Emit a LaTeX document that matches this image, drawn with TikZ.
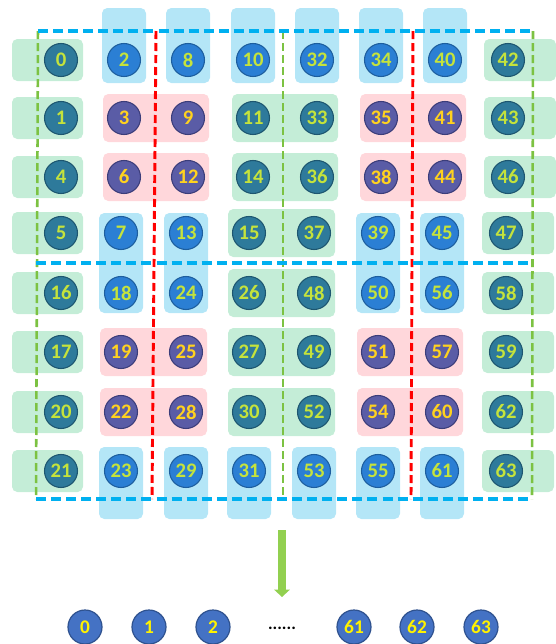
\documentclass[tikz,border=0pt]{standalone}
\usepackage{fontspec}
\setmainfont{Carlito}
\usetikzlibrary{arrows.meta,calc,backgrounds}
\definecolor{tealfill}{HTML}{2E7A9B}
\definecolor{tealline}{HTML}{1D5670}
\definecolor{bluefill}{HTML}{2B7FD4}
\definecolor{blueline}{HTML}{1D5E9E}
\definecolor{purpfill}{HTML}{5A5CA6}
\definecolor{purpline}{HTML}{3B3D7A}
\definecolor{limetext}{HTML}{C5E33C}
\definecolor{goldtext}{HTML}{FFD21F}
\definecolor{greenbox}{HTML}{C4EDD7}
\definecolor{bluebox}{HTML}{B4E6F7}
\definecolor{pinkbox}{HTML}{FFD7DB}
\definecolor{dashblue}{HTML}{00B0F0}
\definecolor{dashgreen}{HTML}{7CC242}
\definecolor{dashred}{HTML}{FF0000}
\definecolor{arrowgreen}{HTML}{92D050}
\definecolor{outfill}{HTML}{4472C4}
\definecolor{outline}{HTML}{2F528F}
\begin{document}
\begin{tikzpicture}[x=0.75pt,y=-0.75pt,
  circbase/.style={circle,minimum size=24.75pt,inner sep=0pt,line width=0.8pt,
    font=\fontsize{15.5}{16}\selectfont\bfseries},
  circT/.style={circbase,draw=tealline,fill=tealfill,text=limetext},
  circB/.style={circbase,draw=blueline,fill=bluefill,text=limetext},
  circP/.style={circbase,draw=purpline,fill=purpfill,text=goldtext},
  outcirc/.style={circle,minimum size=25.5pt,inner sep=0pt,line width=0.9pt,
    draw=outline,fill=outfill,text=yellow,font=\fontsize{14.5}{15}\selectfont\bfseries},
  gbox/.style={fill=greenbox,rounded corners=4pt},
  bbox/.style={fill=bluebox,rounded corners=4pt},
  pbox/.style={fill=pinkbox,rounded corners=4pt},
  bluedash/.style={draw=dashblue,line width=2.3pt,dash pattern=on 7.5pt off 3.8pt},
  greendash/.style={draw=dashgreen,line width=1.9pt,dash pattern=on 6pt off 3pt},
  reddash/.style={draw=dashred,line width=2.2pt,dash pattern=on 6pt off 3pt},
  bigarrow/.style={draw=arrowgreen,line width=6pt,-{Triangle[width=11.5pt,length=5.5pt]}}
]
\useasboundingbox (0,0) rectangle (556,644);

% circles of the grid
\foreach \r/\y/\cells in {
 0/60/{T/0,B/2,B/8,B/10,B/32,B/34,B/40,T/42},
 1/118/{T/1,P/3,P/9,T/11,T/33,P/35,P/41,T/43},
 2/177/{T/4,P/6,P/12,T/14,T/36,P/38,P/44,T/46},
 3/233/{T/5,B/7,B/13,T/15,T/37,B/39,B/45,T/47},
 4/293/{T/16,B/18,B/24,T/26,T/48,B/50,B/56,T/58},
 5/352/{T/17,P/19,P/25,T/27,T/49,P/51,P/57,T/59},
 6/412/{T/20,P/22,P/28,T/30,T/52,P/54,P/60,T/62},
 7/471/{T/21,B/23,B/29,B/31,B/53,B/55,B/61,T/63}}{
  \foreach \t/\l [count=\c from 0] in \cells {
    \ifnum\r<3
      \pgfmathsetmacro\xx{{61,124,188,253,317,381,445,508}[\c]}
    \else
      \pgfmathsetmacro\xx{{61,121,186,249,314,378,442,506}[\c]}
    \fi
    \node[circ\t] (c\l) at (\xx,\y) {\l};
  }
}

% background boxes
\begin{scope}[on background layer]
  \foreach \l in {0,1,4,5,16,17,20,21}
    \fill[gbox] ($(c\l.center)+(-49,-21)$) rectangle ($(c\l.center)+(22,21)$);
  \foreach \l in {42,43,46,47,58,59,62,63}
    \fill[gbox] ($(c\l.center)+(-24,-21)$) rectangle ($(c\l.center)+(48,21)$);
  \foreach \a/\b in {11/33,14/36,15/37,26/48,27/49,30/52}
    \fill[gbox] ($(c\a.center)+(-21,-24)$) rectangle ($(c\b.center)+(21,24)$);
  \foreach \a/\b in {3/9,6/12,35/41,38/44,19/25,22/28,51/57,54/60}
    \fill[pbox] ($(c\a.center)+(-21,-24)$) rectangle ($(c\b.center)+(21,24)$);
  \foreach \l in {2,8,10,32,34,40}
    \fill[bbox] ($(c\l.center)+(-22,-52)$) rectangle ($(c\l.center)+(22,23)$);
  \foreach \l in {23,29,31,53,55,61}
    \fill[bbox] ($(c\l.center)+(-22,-24)$) rectangle ($(c\l.center)+(22,48)$);
  \foreach \a/\b in {7/18,13/24,39/50,45/56}
    \fill[bbox] ($(c\a.center)+(-22,-20)$) rectangle ($(c\b.center)+(22,20)$);
\end{scope}

% dashed partition lines
\coordinate (gLt) at (38,31);  \coordinate (gLb) at (36,499);
\coordinate (gMt) at (283,31); \coordinate (gMb) at (283,499);
\coordinate (gRt) at (533,31); \coordinate (gRb) at (532,499);
\coordinate (rLt) at (156,31); \coordinate (rLb) at (152,499);
\coordinate (rRt) at (413,31); \coordinate (rRb) at (411,499);
\coordinate (bMl) at (36,263); \coordinate (bMr) at (533,263);
\draw[greendash] (gLt) -- (gLb);
\draw[greendash] (gMt) -- (gMb);
\draw[greendash] (gRt) -- (gRb);
\draw[reddash] (rLt) -- (rLb);
\draw[reddash] (rRt) -- (rRb);
\draw[bluedash] (gLt) -- (gRt);
\draw[bluedash] (bMl) -- (bMr);
\draw[bluedash] (gLb) -- (gRb);

% arrow
\coordinate (atop) at (282,530);
\coordinate (atip) at (282,597);
\draw[bigarrow] (atop) -- (atip);

% output row
\foreach \l/\x in {0/85,1/149,2/213,61/354,62/417,63/481}
  \node[outcirc] (o\l) at (\x,627) {\l};
\node[font=\fontsize{13}{14}\selectfont\bfseries] (dots) at (282,628) {......};
\end{tikzpicture}
\end{document}
